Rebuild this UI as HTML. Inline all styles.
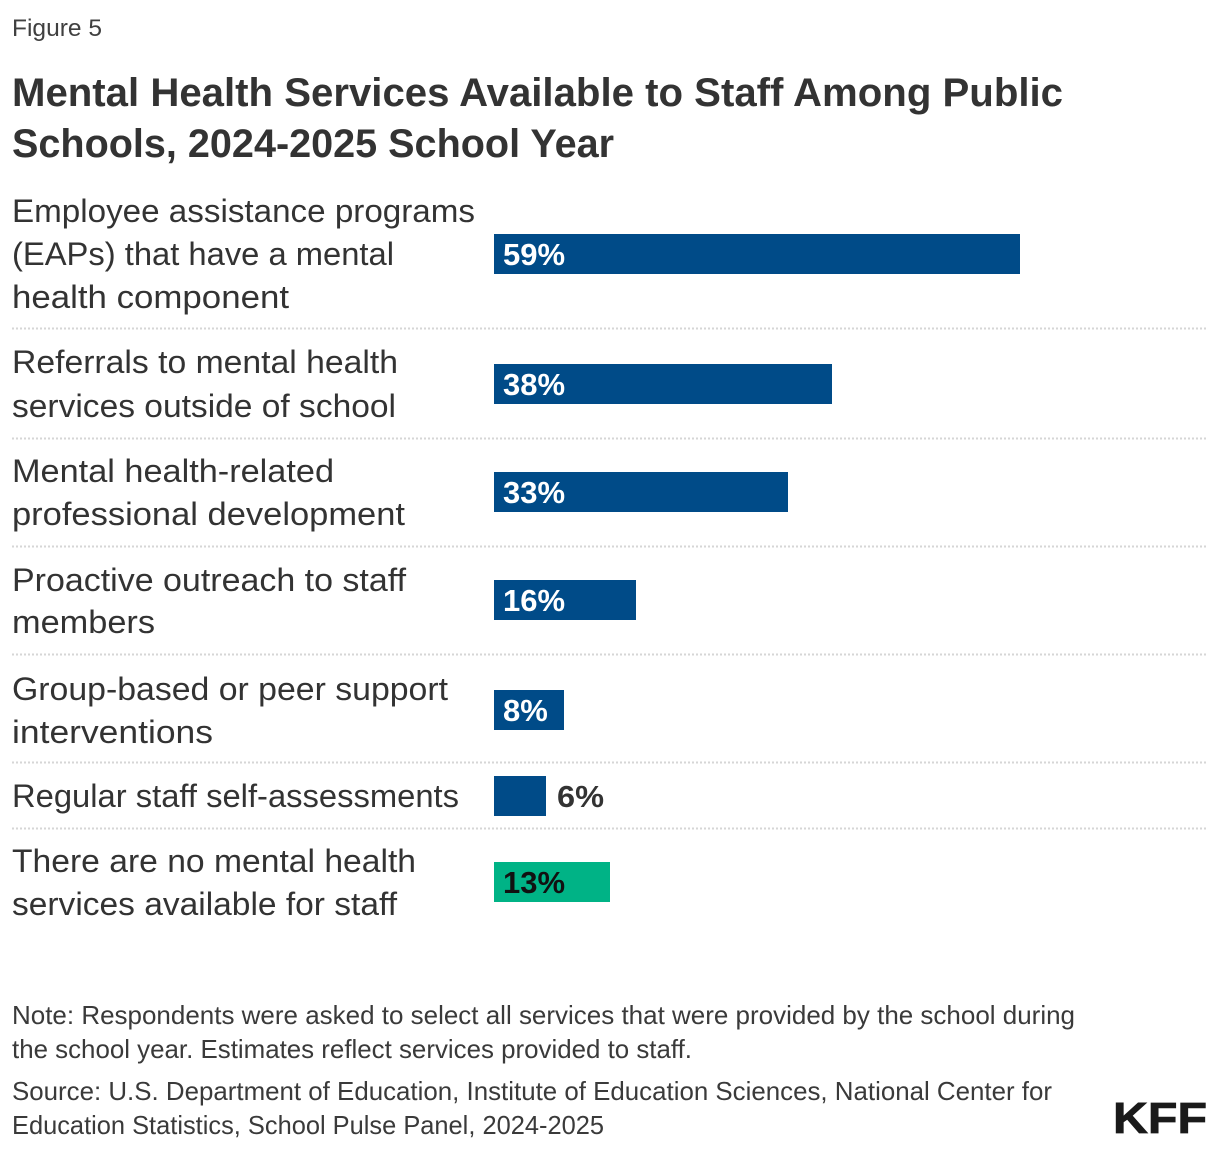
<!DOCTYPE html>
<html>
<head>
<meta charset="utf-8">
<style>
  html, body { margin: 0; padding: 0; background: #fff; }
  svg { display: block; }
  text { font-family: "Liberation Sans", Arial, sans-serif; }
  .lbl { font-size: 32px; fill: #333; }
  .ttl { font-size: 40px; font-weight: bold; fill: #333; }
  .val { font-size: 31px; font-weight: bold; fill: #fff; }
  .ft  { font-size: 26px; fill: #3a3a3a; }
</style>
</head>
<body>
<svg width="1220" height="1154" viewBox="0 0 1220 1154" xmlns="http://www.w3.org/2000/svg">
  <rect x="0" y="0" width="1220" height="1154" fill="#fff"/>

  <text x="12" y="36" font-size="24" fill="#404040" textLength="90" lengthAdjust="spacingAndGlyphs">Figure 5</text>

  <text class="ttl" x="12" y="106" textLength="1051" lengthAdjust="spacingAndGlyphs">Mental Health Services Available to Staff Among Public</text>
  <text class="ttl" x="12" y="157" textLength="602" lengthAdjust="spacingAndGlyphs">Schools, 2024-2025 School Year</text>

  <!-- separators -->
  <g stroke="#d6d6d6" stroke-width="2" stroke-dasharray="2 2">
    <line x1="12" y1="328.5" x2="1208" y2="328.5"/>
    <line x1="12" y1="438.5" x2="1208" y2="438.5"/>
    <line x1="12" y1="546.5" x2="1208" y2="546.5"/>
    <line x1="12" y1="654.5" x2="1208" y2="654.5"/>
    <line x1="12" y1="762.5" x2="1208" y2="762.5"/>
    <line x1="12" y1="828.5" x2="1208" y2="828.5"/>
  </g>

  <!-- Row 1 -->
  <text class="lbl" x="12" y="222" textLength="463" lengthAdjust="spacingAndGlyphs">Employee assistance programs</text>
  <text class="lbl" x="12" y="265" textLength="382" lengthAdjust="spacingAndGlyphs">(EAPs) that have a mental</text>
  <text class="lbl" x="12" y="308" textLength="277" lengthAdjust="spacingAndGlyphs">health component</text>
  <rect x="494" y="234" width="526" height="40" fill="#004b88"/>
  <text class="val" x="503" y="265">59%</text>

  <!-- Row 2 -->
  <text class="lbl" x="12" y="373" textLength="386" lengthAdjust="spacingAndGlyphs">Referrals to mental health</text>
  <text class="lbl" x="12" y="417" textLength="384" lengthAdjust="spacingAndGlyphs">services outside of school</text>
  <rect x="494" y="364" width="338" height="40" fill="#004b88"/>
  <text class="val" x="503" y="395">38%</text>

  <!-- Row 3 -->
  <text class="lbl" x="12" y="482" textLength="322" lengthAdjust="spacingAndGlyphs">Mental health-related</text>
  <text class="lbl" x="12" y="525" textLength="393" lengthAdjust="spacingAndGlyphs">professional development</text>
  <rect x="494" y="472" width="294" height="40" fill="#004b88"/>
  <text class="val" x="503" y="503">33%</text>

  <!-- Row 4 -->
  <text class="lbl" x="12" y="591" textLength="394" lengthAdjust="spacingAndGlyphs">Proactive outreach to staff</text>
  <text class="lbl" x="12" y="633" textLength="143" lengthAdjust="spacingAndGlyphs">members</text>
  <rect x="494" y="580" width="142" height="40" fill="#004b88"/>
  <text class="val" x="503" y="611">16%</text>

  <!-- Row 5 -->
  <text class="lbl" x="12" y="700" textLength="436" lengthAdjust="spacingAndGlyphs">Group-based or peer support</text>
  <text class="lbl" x="12" y="743" textLength="201" lengthAdjust="spacingAndGlyphs">interventions</text>
  <rect x="494" y="690" width="70" height="40" fill="#004b88"/>
  <text class="val" x="503" y="721">8%</text>

  <!-- Row 6 -->
  <text class="lbl" x="12" y="807" textLength="447" lengthAdjust="spacingAndGlyphs">Regular staff self-assessments</text>
  <rect x="494" y="776" width="52" height="40" fill="#004b88"/>
  <text class="val" x="557" y="807" style="fill:#333" textLength="47" lengthAdjust="spacingAndGlyphs">6%</text>

  <!-- Row 7 -->
  <text class="lbl" x="12" y="872" textLength="404" lengthAdjust="spacingAndGlyphs">There are no mental health</text>
  <text class="lbl" x="12" y="915" textLength="385" lengthAdjust="spacingAndGlyphs">services available for staff</text>
  <rect x="494" y="862" width="116" height="40" fill="#00b386"/>
  <text class="val" x="503" y="893" style="fill:#111">13%</text>

  <!-- Footer -->
  <text class="ft" x="12" y="1024" textLength="1063" lengthAdjust="spacingAndGlyphs">Note: Respondents were asked to select all services that were provided by the school during</text>
  <text class="ft" x="12" y="1058" textLength="680" lengthAdjust="spacingAndGlyphs">the school year. Estimates reflect services provided to staff.</text>
  <text class="ft" x="12" y="1100" textLength="1040" lengthAdjust="spacingAndGlyphs">Source: U.S. Department of Education, Institute of Education Sciences, National Center for</text>
  <text class="ft" x="12" y="1134" textLength="592" lengthAdjust="spacingAndGlyphs">Education Statistics, School Pulse Panel, 2024-2025</text>

  <text x="1113" y="1133" font-size="44" font-weight="bold" fill="#1a1a1a" stroke="#1a1a1a" stroke-width="0.8" textLength="94" lengthAdjust="spacingAndGlyphs">KFF</text>
</svg>
</body>
</html>
